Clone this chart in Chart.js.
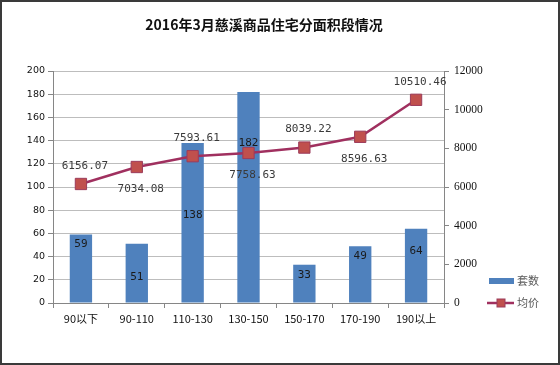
<!DOCTYPE html>
<html>
<head>
<meta charset="utf-8">
<script src="https://cdn.jsdelivr.net/npm/chart.js@4/dist/chart.umd.min.js"></script>
<style>
body{margin:0;background:#fff;}
#wrap{position:relative;width:560px;height:365px;box-sizing:border-box;border:2px solid #3a3a3a;}
#wrap canvas{position:absolute;left:0;top:0;}
</style>
</head>
<body>
<div id="wrap"><canvas id="c" width="556" height="361"></canvas></div>
<script>
let title = "2016年3月慈溪商品住宅分面积段情况";
let categories = ["90以下","90-110","110-130","130-150","150-170","170-190","190以上"];
let countValues = [59,51,138,182,33,49,64];
let priceValues = [6156.07,7034.08,7593.61,7758.63,8039.22,8596.63,10510.46];
let countLabel = "套数", priceLabel = "均价";

// label nudges (px below bar top)
let barLabelDy = [10,33,72,51,10,10,22];

const labelsPlugin = {
    id:'labels',
    afterDatasetsDraw(chart){
        let ctx = chart.ctx;
        ctx.save();
        ctx.font = "11px 'DejaVu Sans Mono'";
        ctx.textAlign = "center";
        ctx.textBaseline = "middle";
        ctx.fillStyle = "#1a1a1a";
        chart.getDatasetMeta(1).data.forEach((b,i)=>{
            ctx.fillText(String(countValues[i]), b.x, b.y + barLabelDy[i]);
        });
        ctx.fillStyle = "#3a3a3a";
        chart.getDatasetMeta(0).data.forEach((p,i)=>{
            let dy = i%2==0 ? -18 : 22;
            ctx.fillText(priceValues[i].toFixed(2), p.x + 4, p.y + dy);
        });
        ctx.restore();
    },
    afterDraw(chart){
        let ctx = chart.ctx;
        ctx.save();
        // title
        ctx.font = "bold 14px 'Noto Sans CJK SC'";
        ctx.fillStyle = "#111";
        ctx.textAlign = "center";
        ctx.textBaseline = "middle";
        ctx.fillText(title, 262, 23);
        // legend
        ctx.font = "11px 'Noto Sans CJK SC'";
        ctx.textAlign = "left";
        ctx.fillStyle = "#4F81BD";
        ctx.fillRect(487, 276, 25, 6);
        ctx.fillStyle = "#595959";
        ctx.fillText(countLabel, 515, 279);
        ctx.strokeStyle = "#A0305F";
        ctx.lineWidth = 2.5;
        ctx.beginPath(); ctx.moveTo(485, 301); ctx.lineTo(512, 301); ctx.stroke();
        ctx.fillStyle = "#C0504D";
        ctx.fillRect(495, 297, 8, 8);
        ctx.strokeStyle = "#9C3B5A"; ctx.lineWidth = 1;
        ctx.strokeRect(495, 297, 8, 8);
        ctx.fillStyle = "#595959";
        ctx.fillText(priceLabel, 515, 301);
        ctx.restore();
    }
};

new Chart(document.getElementById('c'),{
    data:{
        labels:categories,
        datasets:[
            {type:'line',label:priceLabel,data:priceValues,yAxisID:'y1',order:0,
             borderColor:'#A0305F',borderWidth:2.5,pointStyle:'rect',pointRadius:8,pointHoverRadius:8,
             pointBackgroundColor:'#C0504D',pointBorderColor:'#9C3B5A',pointBorderWidth:1,tension:0},
            {type:'bar',label:countLabel,data:countValues,yAxisID:'y',order:1,
             backgroundColor:'#4F81BD',barPercentage:0.4,categoryPercentage:1}
        ]
    },
    options:{
        responsive:false,animation:false,
        layout:{padding:{left:0,right:69,top:69,bottom:35}},
        plugins:{legend:{display:false},tooltip:{enabled:false},title:{display:false}},
        scales:{
            x:{offset:true,
               grid:{offset:true,drawOnChartArea:false,tickLength:5,tickColor:'#868686'},
               border:{color:'#868686'},
               ticks:{color:'#111',font:{family:"'Noto Sans CJK SC'",size:11},padding:4,maxRotation:0},
               afterFit:s=>{s.height=25;}},
            y:{position:'left',min:0,max:200,
               ticks:{stepSize:20,color:'#111',font:{family:"'DejaVu Sans'",size:9.5},padding:3},
               grid:{color:'#bdbdbd',tickLength:5,tickColor:'#868686'},
               border:{color:'#868686'},
               afterFit:s=>{s.width=51;}},
            y1:{position:'right',min:0,max:12000,
               ticks:{stepSize:2000,color:'#111',font:{family:"'Liberation Serif'",size:11.5},padding:5,
                      callback:v=>String(v)},
               grid:{drawOnChartArea:false,tickLength:5,tickColor:'#868686'},
               border:{color:'#868686'},
               afterFit:s=>{s.width=45;}}
        }
    },
    plugins:[labelsPlugin]
});
</script>
</body>
</html>
